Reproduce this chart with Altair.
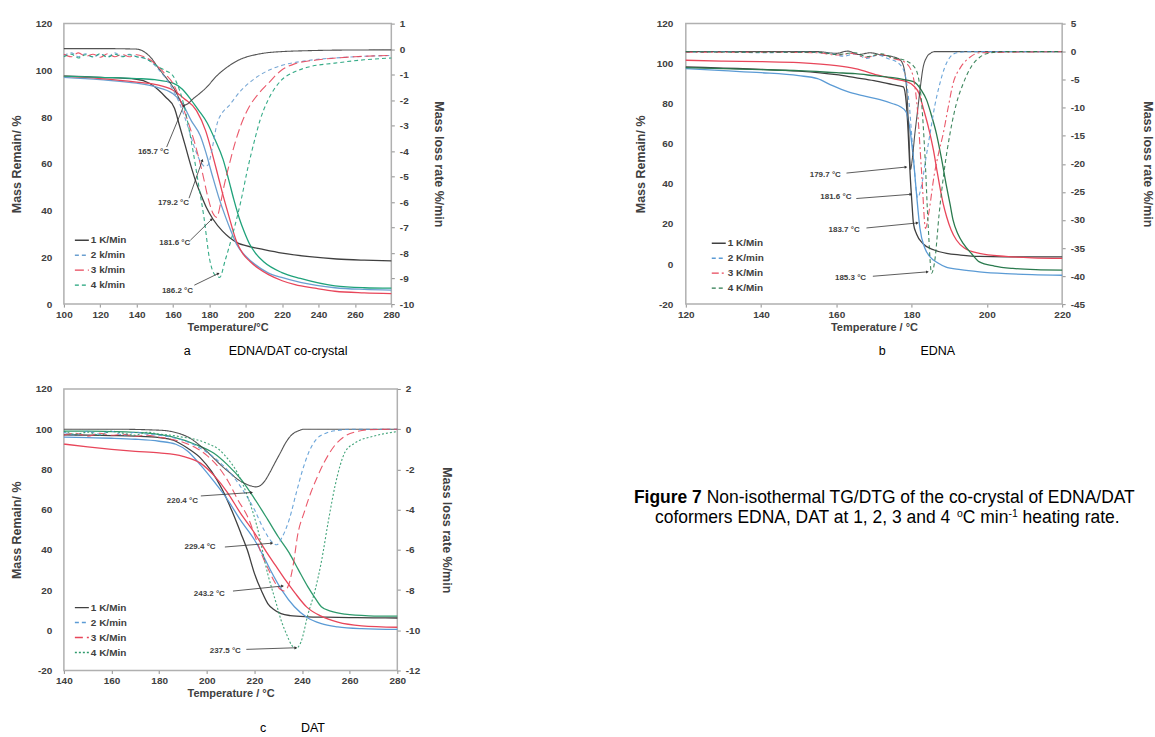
import math
import altair as alt
import pandas as pd

FONT = "Liberation Sans"

# ---------------- Panel a : EDNA/DAT co-crystal ----------------
A_LABELS = ["1 K/Min", "2 k/min", "3 k/min", "4 k/min"]
A_COLORS = ["#404040", "#6a9fd0", "#e8465a", "#1fa27a"]
A_DASHES = [[1, 0], [4, 3], [9, 4], [4, 3]]
A_TG_1 = [(100,97.5),(120,97),(140,96.2),(147,94.5),(152,91.6),(156,88.5),(160.8,83.8),(163.5,76.5),(166.6,68.1),(169.5,60),(172.5,52.5),(175.5,46.5),(178.4,41.2),(182,36.3),(187.2,31.2),(191,28.5),(196,26),(200,25),(210,23.3),(220,21.8),(235,20.3),(250,19.3),(265,18.8),(280,18.5)]
A_TG_2 = [(100,97),(120,96),(140,94.5),(150,93),(160,90),(165,86),(170,78.5),(175,72),(178,65),(181.6,55),(185,46),(189,37),(192,31),(194.9,25.6),(200,20.5),(205,17),(212,13.5),(219.7,11.4),(230,9.3),(249,7),(265,6.3),(280,6)]
A_TG_3 = [(100,97.5),(120,96.5),(140,95),(150,94),(160,91.5),(166,88),(172.9,82.8),(178,74),(181,66),(184.6,55.3),(187.5,46.5),(190.5,38.2),(194.9,26.8),(198,22),(202.2,18.3),(207,15.2),(212.5,12.6),(220,10),(227.1,8.3),(238,6.8),(249,5.5),(265,4.8),(280,4.5)]
A_TG_4 = [(100,97.5),(120,97),(140,96.5),(150,96),(160,94.5),(165,92),(170,87.3),(174,83),(178.8,77.5),(183,70.5),(187.5,61.9),(190.5,53.5),(193.4,44.8),(196.5,36.5),(199.3,30.6),(202,25.8),(205.1,22),(210,18),(219.8,13.5),(230,11),(249,7.8),(265,7),(280,6.8)]
A_DTG_1 = [(100,0.02),(120,0.02),(140,0),(145,-0.15),(148,-0.35),(152,-0.75),(157,-1.2),(161,-1.6),(163.5,-1.95),(165.7,-2.2),(168,-2.15),(171,-1.95),(174.5,-1.75),(178.4,-1.5),(184,-1.05),(190.1,-0.69),(197,-0.4),(204.7,-0.23),(212,-0.14),(219.4,-0.1),(235,-0.06),(250,-0.04),(280,-0.03)]
A_DTG_2 = [(100,-0.25),(104,-0.15),(108,-0.3),(112,-0.18),(116,-0.32),(120,-0.2),(124,-0.3),(128,-0.15),(132,-0.28),(136,-0.2),(140,-0.3),(144,-0.35),(148,-0.5),(152,-0.8),(156,-1.15),(160,-1.6),(164,-2.2),(168,-3.0),(172,-3.9),(175.4,-4.45),(177.5,-4.6),(179.2,-4.55),(181.5,-3.9),(184.2,-2.93),(187,-2.5),(190.1,-2.27),(197.4,-1.62),(204.8,-1.16),(212,-0.85),(219.4,-0.65),(234,-0.45),(255,-0.32),(280,-0.25)]
A_DTG_3 = [(100,-0.2),(104,-0.3),(108,-0.15),(112,-0.28),(116,-0.2),(120,-0.32),(124,-0.18),(128,-0.3),(132,-0.2),(136,-0.3),(140,-0.22),(144,-0.3),(148,-0.45),(152,-0.7),(156,-1.0),(160,-1.35),(164,-2.0),(168,-2.8),(172,-3.7),(176,-4.8),(179.5,-5.9),(182,-6.45),(184,-6.6),(186,-6.1),(187.5,-5.55),(191,-4.5),(194.5,-3.58),(198,-2.85),(201.8,-2.27),(207,-1.75),(212.1,-1.36),(219.4,-0.84),(226.8,-0.58),(240,-0.42),(260,-0.3),(280,-0.25)]
A_DTG_4 = [(100,-0.3),(104,-0.2),(108,-0.35),(112,-0.22),(116,-0.3),(120,-0.18),(124,-0.32),(128,-0.2),(132,-0.3),(136,-0.22),(140,-0.3),(144,-0.35),(148,-0.5),(152,-0.7),(156,-0.85),(160,-1.05),(163,-1.5),(166,-2.2),(171,-4.0),(174,-5.3),(177,-6.6),(180,-8.2),(183,-8.85),(185.7,-8.95),(188.6,-8.3),(193,-7.2),(197.4,-5.93),(201,-4.7),(204.8,-3.58),(208,-2.75),(212.1,-2.02),(219.4,-1.23),(226,-0.92),(234,-0.71),(249,-0.55),(265,-0.42),(280,-0.35)]
A_ANN_LABEL = ["165.7 °C", "179.2 °C", "181.6 °C", "186.2 °C"]
A_ANN_TEXT = [(157.8, 64.9), (168.8, 43.3), (169.5, 26.3), (171.0, 5.8)]
A_ANN_FROM = [(156.5, 67.2), (168.8, 45.3), (169.5, 27.3), (171.7, 8.1)]
A_ANN_TO = [(166.0, 85.0), (176.1, 61.5), (181.3, 36.3), (184.9, 13.1)]

# ---------------- Panel b : EDNA ----------------
B_LABELS = ["1 K/Min", "2 K/min", "3 K/Min", "4 K/Min"]
B_COLORS = ["#404040", "#5b9bd5", "#e8465a", "#2a7a4e"]
B_DASHES = [[1, 0], [4, 3], [7, 3, 2, 3], [4, 3]]
B_TG_1 = [(120,98.4),(130,97.8),(140,97.2),(150,96.3),(160,94.5),(165,93),(170,91.5),(175,89.5),(177.8,88.4),(178.6,80),(179.1,65),(179.6,45),(180.1,30),(180.5,20),(181.3,15),(183.1,10),(186,7),(189.3,5.3),(193,4.5),(198,3.8),(205,3.6),(212,3.6),(220,3.6)]
B_TG_2 = [(120,97.5),(130,96.5),(140,95.5),(150,94),(155,92.5),(159,89),(163,86),(167,84),(171.6,82),(175,80),(177,78.5),(178.5,76),(179.5,68),(180.5,52),(181.3,35),(182.2,18),(183.5,8),(184.9,3.6),(187,0.5),(189,-1.4),(193,-2.8),(198,-3.9),(205,-4.8),(212,-5.3),(220,-5.6)]
B_TG_3 = [(120,101.7),(130,101.3),(140,101),(150,100.5),(160,99),(165,97.5),(171.6,94),(175,92.5),(178.7,91),(180.5,89),(182,85),(183,78.4),(184.5,68),(185.8,56.8),(186.7,47),(187.5,38.5),(188.4,30),(189.3,23.6),(190.5,17),(191.9,12),(194,8),(198,5.3),(205,3.8),(212,3.1),(220,2.8)]
B_TG_4 = [(120,98),(130,97.5),(140,97),(150,96.5),(160,95.5),(165,95),(170,94),(175,93),(178,92),(180.5,91),(182.5,87),(184,81.8),(185.3,74),(186.6,65),(188,52),(189.3,38.5),(190.2,30),(191,22),(192.3,15),(193.7,10.3),(196,5),(198,1.1),(202,-1),(206.9,-2.2),(213,-2.8),(220,-3)]
B_DTG_1 = [(120,0),(140,0),(155,0),(160,-0.3),(163,0.1),(166,-0.5),(169,-0.2),(172,-0.6),(175,-0.9),(177,-1.5),(178,-3),(178.8,-8),(179.3,-15),(179.7,-21),(180.2,-19),(180.8,-15),(181.5,-11),(182.2,-7),(183,-3),(184,-1),(185,-0.3),(186,0),(200,0),(220,0)]
B_DTG_2 = [(120,-0.1),(130,0),(140,-0.2),(150,-0.1),(158,-0.3),(162,-0.8),(165,-0.4),(168,-1.2),(171,-0.6),(174,-1.3),(176,-1.8),(178,-3.5),(179.3,-9),(180.5,-19),(181.6,-26),(182.6,-24),(183.8,-19),(184.9,-14.6),(186.2,-9.5),(187.5,-5.7),(188.8,-2.8),(190.2,-1),(192,-0.2),(195,0),(220,0)]
B_DTG_3 = [(120,-0.1),(140,-0.1),(155,-0.2),(160,-0.6),(164,-0.3),(168,-1.0),(172,-0.5),(175,-1.2),(178,-1.8),(180,-3.5),(181.5,-10),(182.7,-22),(183.7,-31.5),(184.5,-29),(186,-22),(187.2,-18),(188.4,-14.6),(189.7,-10),(191,-5.7),(193,-2.8),(195.5,-1),(198,-0.2),(220,0)]
B_DTG_4 = [(120,0),(140,-0.1),(155,-0.1),(160,-0.5),(165,-0.2),(168,-0.9),(172,-0.4),(175,-1.1),(178,-1.5),(181,-3),(182.5,-8),(183.5,-18),(184.4,-31),(185.3,-39.5),(186.2,-37),(187.3,-29),(188.7,-21),(190.2,-14.6),(192,-9),(193.7,-5.7),(196,-2.5),(198.1,-1),(201,-0.2),(205,0),(220,0)]
B_ANN_LABEL = ["179.7 °C", "181.6 °C", "183.7 °C", "185.3 °C"]
B_ANN_TEXT = [(161.2, 44.3), (164.0, 33.5), (166.2, 16.9), (167.9, -7.2)]
B_ANN_FROM = [(162.7, 45.4), (165.3, 32.7), (168.0, 18.0), (169.7, -6.1)]
B_ANN_TO = [(178.5, 48.4), (179.8, 34.8), (181.5, 20.5), (184.2, -3.9)]

# ---------------- Panel c : DAT ----------------
C_LABELS = ["1 K/Min", "2 K/min", "3 K/Min", "4 K/Min"]
C_COLORS = ["#404040", "#5b9bd5", "#e8465a", "#2e9a6c"]
C_DASHES = [[1, 0], [4, 3], [8, 4], [2, 2]]
C_TG_1 = [(140,97.2),(150,97),(160,96.8),(170,96.5),(180,95.8),(186,94.5),(192,90.5),(197.5,85.5),(202,79),(206.5,70),(210.5,59.5),(214.3,48.3),(217,40),(220,28.3),(223,19.5),(225.6,13.3),(228,10.5),(231.2,8.3),(235,7.3),(242.4,6.7),(250,6.5),(260,6.3),(270,6.2),(280,6.1)]
C_TG_2 = [(140,96),(150,95.8),(160,95.5),(170,95),(180,94),(187,92.5),(192,89),(197.5,82),(203,74),(208.7,65),(214,55),(220,45),(223.5,37.5),(226.7,30),(231.5,20),(236.8,11.7),(242,6.5),(248.1,3.3),(255,1.7),(265,0.8),(280,0.4)]
C_TG_3 = [(140,92.6),(150,91.2),(160,90),(170,89),(180,88.2),(190,86.5),(197.5,83),(203,77),(208.7,68.5),(214,58.5),(220,48.5),(225,39),(229,32),(233,25),(237,18.6),(242,11.5),(248,7),(255,4),(265,2.2),(280,1.5)]
C_TG_4 = [(140,99),(150,99),(160,98.8),(175,98),(186,96),(195,92.5),(203,88),(208.5,82.5),(214.4,75),(220,65.5),(225.6,55),(230,46.5),(234.6,38.5),(238.5,30),(242.4,21.7),(245.5,16),(248.1,11.7),(252,9.5),(258,8),(268,7.2),(280,7)]
C_DTG_1 = [(140,0),(160,0),(180,-0.05),(188,-0.2),(193,-0.45),(197,-0.8),(200,-1.1),(203,-1.45),(206.5,-1.85),(210,-2.2),(213,-2.5),(216,-2.7),(218.5,-2.82),(220.4,-2.87),(222.5,-2.8),(224.5,-2.55),(226.5,-2.15),(228.5,-1.7),(231,-1.15),(233,-0.7),(234.6,-0.42),(236.5,-0.2),(238.5,-0.08),(241,0),(250,0),(265,0),(280,0)]
C_DTG_2 = [(140,-0.15),(145,-0.3),(150,-0.1),(155,-0.25),(160,-0.1),(165,-0.3),(170,-0.15),(175,-0.25),(180,-0.3),(185,-0.4),(190,-0.55),(195,-0.8),(200,-1.15),(205,-1.6),(210,-2.2),(215,-3.0),(220,-4.0),(224,-5.0),(227.3,-5.6),(229.4,-5.75),(231.5,-5.4),(234.6,-4.5),(237.5,-3.2),(240.3,-2.0),(243,-1.1),(246,-0.5),(250,-0.2),(255,-0.06),(262,0),(280,0)]
C_DTG_3 = [(140,-0.3),(145,-0.2),(150,-0.35),(155,-0.2),(160,-0.3),(165,-0.25),(170,-0.35),(175,-0.3),(180,-0.4),(185,-0.5),(190,-0.65),(195,-0.9),(200,-1.3),(205,-1.9),(209,-2.6),(213,-3.5),(217.7,-4.5),(220.5,-5.4),(223.3,-6.3),(226,-7.0),(228.5,-7.6),(230.7,-7.95),(232.5,-8.05),(234.5,-7.7),(236.5,-6.6),(238.1,-5.3),(241,-4.1),(243.7,-3.15),(246.5,-2.35),(249.3,-1.65),(253.8,-0.8),(258,-0.35),(263,-0.12),(268,-0.03),(280,0)]
C_DTG_4 = [(140,-0.1),(145,-0.25),(150,-0.15),(155,-0.3),(160,-0.1),(165,-0.2),(170,-0.3),(175,-0.15),(180,-0.25),(185,-0.3),(190,-0.4),(195,-0.5),(200,-0.7),(205,-1.0),(209,-1.5),(213,-2.2),(217,-3.3),(221,-4.8),(225.6,-7.2),(229,-8.6),(231.2,-9.5),(233.5,-10.2),(235.7,-10.75),(237.5,-10.9),(239.5,-10.6),(242.5,-9.2),(245.5,-8.0),(248.1,-6.6),(251,-4.6),(253.8,-2.85),(256,-1.8),(258,-1.15),(262,-0.7),(270,-0.35),(280,-0.12)]
C_ANN_LABEL = ["220.4 °C", "229.4 °C", "243.2 °C", "237.5 °C"]
C_ANN_TEXT = [(196.3, 64.3), (203.7, 41.4), (207.6, 18.2), (214.3, -10.4)]
C_ANN_FROM = [(197.5, 66.8), (207.6, 41.4), (211.0, 19.5), (216.6, -9.5)]
C_ANN_TO = [(218.8, 68.5), (227.3, 43.3), (231.8, 22.0), (237.4, -8.7)]

CAPTION_LINE1_BOLD = "Figure 7"
CAPTION_LINE1 = "Non-isothermal TG/DTG of the co-crystal of EDNA/DAT"
CAPTION_LINE2 = ["coformers EDNA, DAT at 1, 2, 3 and 4", "o", "C min", "-1", "heating rate."]

# ------------- helpers -------------
ARIAL = {' ': 278, ',': 278, '.': 278, '-': 333, '/': 278, '%': 889}
for ch in "0123456789":
    ARIAL[ch] = 556
ARIAL.update(dict(zip("abcdefghijklmnopqrstuvwxyz",
                      [556, 556, 500, 556, 556, 278, 556, 556, 222, 222, 500, 222, 833, 556, 556, 556, 556, 333, 500, 278, 556, 500, 722, 500, 500, 500])))
ARIAL.update(dict(zip("ABCDEFGHIJKLMNOPQRSTUVWXYZ",
                      [667, 667, 722, 722, 667, 611, 778, 722, 278, 500, 667, 556, 833, 722, 778, 667, 778, 722, 667, 611, 722, 667, 944, 667, 667, 611])))
ARIAL_BOLD = {'F': 611, 'i': 278, 'g': 611, 'u': 611, 'r': 389, 'e': 556, ' ': 278, '7': 556}
MINUS_FIX = "replace(datum.label, '\u2212', '-')"


def tw(s, size, bold=False):
    tab = ARIAL_BOLD if bold else ARIAL
    return sum(tab.get(c, 556) for c in s) * size / 1000.0


def curves_df(labels, curves):
    rows = []
    for lab, pts in zip(labels, curves):
        for t, v in pts:
            rows.append({"S": lab, "D": lab, "T": t, "V": v})
    return pd.DataFrame(rows)


def panel(labels, colors, dashes, tg_curves, dtg_curves, ann, xdom, ldom, rdom,
          xticks, lticks, rticks, xtitle, w, h, leg_xy, left_pad, right_pad,
          caption, cap_dx, cap_offset, extra=()):
    xs = alt.Scale(domain=xdom, nice=False, zero=False)
    ls = alt.Scale(domain=ldom, nice=False, zero=False)
    rs = alt.Scale(domain=rdom, nice=False, zero=False)
    cs = alt.Scale(domain=labels, range=colors)
    ds = alt.Scale(domain=labels, range=dashes)
    xaxis = alt.Axis(values=xticks, title=xtitle, labelFlush=False, labelOverlap=False,
                     ticks=True, tickSize=3, labelPadding=2, titlePadding=2,
                     titleFontSize=11)
    laxis = alt.Axis(orient="left", values=lticks, title="Mass Remain/ %", ticks=False,
                     labelPadding=left_pad[0], titlePadding=left_pad[1], labelFlush=False,
                     labelOverlap=False, labelExpr=MINUS_FIX)
    raxis = alt.Axis(orient="right", values=rticks, title="Mass loss rate %/min", ticks=True,
                     tickSize=3, labelPadding=right_pad[0], titlePadding=right_pad[1],
                     labelFlush=False, labelOverlap=False, labelExpr=MINUS_FIX)
    tg = alt.Chart(curves_df(labels, tg_curves)).mark_line(
        strokeWidth=1.3, interpolate="monotone").encode(
        x=alt.X("T:Q", scale=xs, axis=xaxis),
        y=alt.Y("V:Q", scale=ls, axis=laxis),
        color=alt.Color("S:N", scale=cs, legend=alt.Legend(
            orient="none", legendX=leg_xy[0], legendY=leg_xy[1], title=None,
            labelFont=FONT, labelFontSize=10, labelFontWeight="bold", labelColor="#404040",
            symbolType="stroke", symbolStrokeWidth=1.4, symbolSize=196, rowPadding=2,
            padding=0, labelOffset=1)),
    )
    dtg = alt.Chart(curves_df(labels, dtg_curves)).mark_line(
        strokeWidth=1.1, interpolate="monotone", opacity=0.9).encode(
        x=alt.X("T:Q", scale=xs, axis=xaxis),
        y=alt.Y("V:Q", scale=rs, axis=raxis),
        color=alt.Color("S:N", scale=cs, legend=None),
        strokeDash=alt.StrokeDash("D:N", scale=ds, legend=None),
    )
    lab, txt_pos, src, dst = ann
    tdf = pd.DataFrame({"lab": lab, "T": [p[0] for p in txt_pos], "L": [p[1] for p in txt_pos]})
    sx = w / (xdom[1] - xdom[0])
    sy = h / (ldom[1] - ldom[0])
    arows = []
    for (t1, l1), (t2, l2) in zip(src, dst):
        dx = (t2 - t1) * sx
        dy = -(l2 - l1) * sy
        arows.append({"T1": t1, "L1": l1, "T2": t2, "L2": l2,
                      "ang": math.degrees(math.atan2(dx, -dy)) % 360})
    adf = pd.DataFrame(arows)
    rule = alt.Chart(adf).mark_rule(strokeWidth=0.8, color="#333333").encode(
        x=alt.X("T1:Q", scale=xs, axis=xaxis), x2="T2:Q",
        y=alt.Y("L1:Q", scale=ls, axis=None), y2="L2:Q")
    head = alt.Chart(adf).mark_point(shape="triangle-up", filled=True, size=10,
                                      color="#333333", opacity=1).encode(
        x=alt.X("T2:Q", scale=xs, axis=xaxis),
        y=alt.Y("L2:Q", scale=ls, axis=None),
        angle=alt.Angle("ang:Q", scale=None))
    text = alt.Chart(tdf).mark_text(align="right", baseline="middle", fontSize=8,
                                     fontWeight="bold", color="#404040", font=FONT).encode(
        x=alt.X("T:Q", scale=xs, axis=xaxis),
        y=alt.Y("L:Q", scale=ls, axis=None),
        text="lab:N")
    layers = [tg, dtg, rule, head, text] + list(extra)
    return alt.layer(*layers).resolve_scale(y="independent").properties(
        width=w, height=h,
        title=alt.Title(text=caption, orient="bottom", anchor="middle", dx=cap_dx,
                        offset=cap_offset, font=FONT, fontSize=12.5, fontWeight="normal",
                        color="black"))


# caption block (pixel offsets from panel c's plot origin)
one = pd.DataFrame({"k": [0]})
FS = 17.5
SUP = 10.5
x1 = 571
base1 = 114.3
base2 = 134.3
cap_layers = [
    alt.Chart(one).mark_text(text=CAPTION_LINE1_BOLD, align="left", baseline="alphabetic",
                             fontSize=FS, fontWeight="bold", font=FONT, color="black").encode(
        x=alt.value(x1), y=alt.value(base1)),
    alt.Chart(one).mark_text(text=CAPTION_LINE1, align="left", baseline="alphabetic",
                             fontSize=FS, font=FONT, color="black").encode(
        x=alt.value(x1 + tw(CAPTION_LINE1_BOLD + " ", FS, True)), y=alt.value(base1)),
]
line1_w = tw(CAPTION_LINE1_BOLD + " ", FS, True) + tw(CAPTION_LINE1, FS)
center = x1 + line1_w / 2 + 2
p1, so, pc, sm, p2 = CAPTION_LINE2
sp = tw(" ", FS)
total2 = tw(p1, FS) + sp + tw(so, SUP) + tw(pc, FS) + tw(sm, SUP) + sp + tw(p2, FS)
xx = center - total2 / 2
pieces = [(p1, FS, 0, tw(p1, FS) + sp), (so, SUP, -6, tw(so, SUP)), (pc, FS, 0, tw(pc, FS)),
          (sm, SUP, -6, tw(sm, SUP) + sp), (p2, FS, 0, 0)]
for s, size, dy, adv in pieces:
    cap_layers.append(
        alt.Chart(one).mark_text(text=s, align="left", baseline="alphabetic", fontSize=size,
                                 font=FONT, color="black").encode(
            x=alt.value(xx), y=alt.value(base2 + dy)))
    xx += adv

pa = panel(A_LABELS, A_COLORS, A_DASHES, [A_TG_1, A_TG_2, A_TG_3, A_TG_4],
           [A_DTG_1, A_DTG_2, A_DTG_3, A_DTG_4],
           (A_ANN_LABEL, A_ANN_TEXT, A_ANN_FROM, A_ANN_TO),
           [100, 280], [0, 120], [-10, 1], list(range(100, 281, 20)), list(range(0, 121, 20)),
           list(range(-10, 2)), "Temperature/°C", 328, 281, (10, 209), (12, 12), (5, 18),
           "a" + "\u00a0" * 11 + "EDNA/DAT co-crystal", 38, 13)
pb = panel(B_LABELS, B_COLORS, B_DASHES, [B_TG_1, B_TG_2, B_TG_3, B_TG_4],
           [B_DTG_1, B_DTG_2, B_DTG_3, B_DTG_4],
           (B_ANN_LABEL, B_ANN_TEXT, B_ANN_FROM, B_ANN_TO),
           [120, 220], [-20, 120], [-45, 5], list(range(120, 221, 20)), list(range(-20, 121, 20)),
           list(range(-45, 6, 5)), "Temperature / °C", 377, 281, (25, 212), (13, 9), (5, 56),
           "b" + "\u00a0" * 10 + "EDNA", 43, 13)
pc_chart = panel(C_LABELS, C_COLORS, C_DASHES, [C_TG_1, C_TG_2, C_TG_3, C_TG_4],
                 [C_DTG_1, C_DTG_2, C_DTG_3, C_DTG_4],
                 (C_ANN_LABEL, C_ANN_TEXT, C_ANN_FROM, C_ANN_TO),
                 [140, 280], [-20, 120], [-12, 2], list(range(140, 281, 20)),
                 list(range(-20, 121, 20)), list(range(-12, 3, 2)), "Temperature / °C",
                 334, 282, (10, 211), (12, 12), (5, 20),
                 "c" + "\u00a0" * 10 + "DAT", 62, 24, extra=cap_layers)

chart = alt.concat(pa, pb, pc_chart, columns=2, spacing={"row": 85, "column": 289},
                   bounds="flush", align="each").resolve_scale(
    color="independent", strokeDash="independent").resolve_legend(color="independent")

chart = chart.properties(
    padding={"left": 9, "top": 17, "right": 0, "bottom": 0}, background="white"
).configure(font=FONT).configure_view(
    stroke="#b0b0b0", strokeWidth=1.5
).configure_axis(
    labelFont=FONT, titleFont=FONT, labelFontSize=10, labelFontWeight="bold",
    labelColor="#404040", titleFontSize=12.5, titleFontWeight="bold", titleColor="#404040",
    domain=False, grid=False, tickColor="#909090"
)

chart.save("out.html", embed_options={"renderer": "svg", "actions": False})
